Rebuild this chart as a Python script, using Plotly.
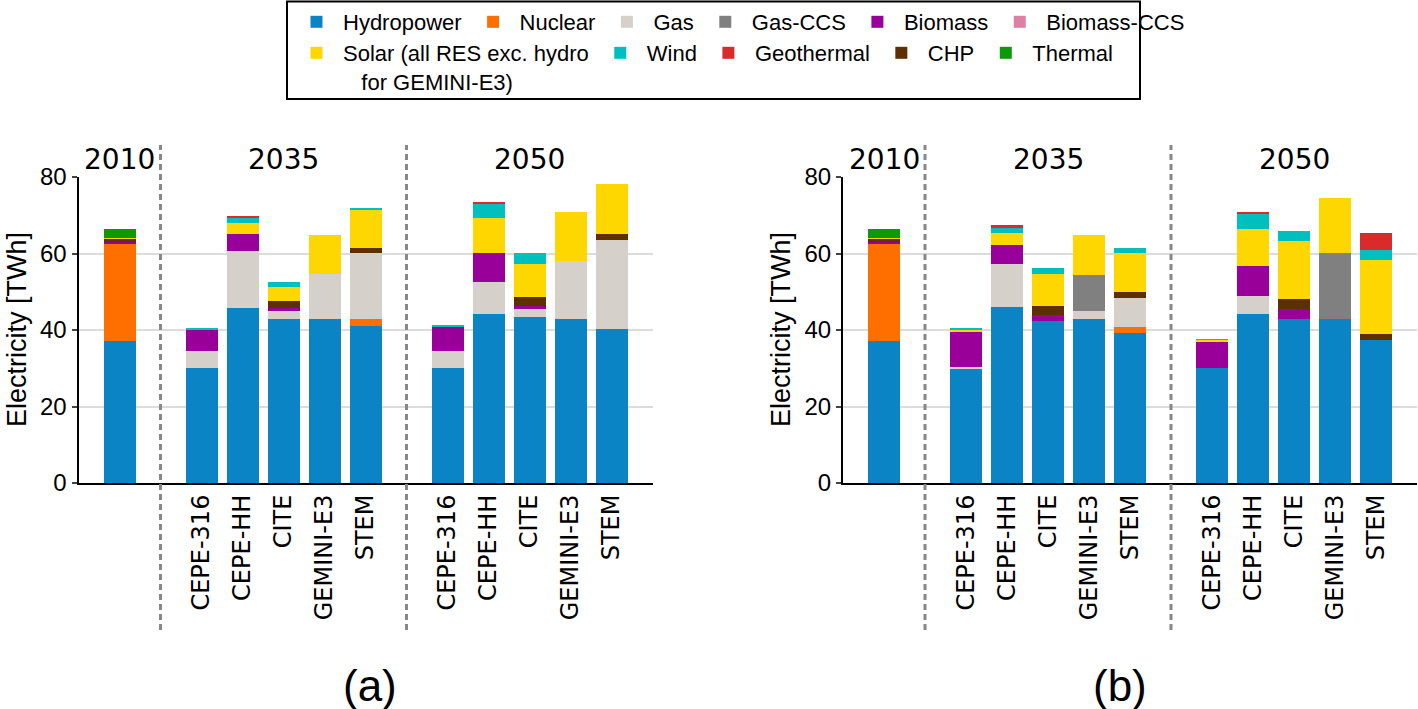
import plotly.graph_objects as go

# Categories: 2010 reference bar, then five models for 2035 and for 2050
YEARS = ['2010', '2035', '2050']
MODELS = ['CEPE-316', 'CEPE-HH', 'CITE', 'GEMINI-E3', 'STEM']

TECHS = ['Hydropower', 'Nuclear', 'Gas', 'Gas-CCS', 'Biomass', 'Biomass-CCS',
         'CHP', 'Solar', 'Wind', 'Geothermal', 'Thermal']
LEGEND_NAMES = {'Solar': 'Solar (all RES exc. hydro<br>\u00a0\u00a0\u00a0for GEMINI-E3)'}

# values in TWh, order: 2010 | 2035 x5 models | 2050 x5 models
# panel (a)
HYDRO_A = [37.2, 30.1, 45.8, 42.9, 43.0, 41.1, 30.1, 44.2, 43.4, 43.0, 40.3]
NUCLEAR_A = [25.3, 0, 0, 0, 0, 1.9, 0, 0, 0, 0, 0]
GAS_A = [0, 4.4, 14.9, 2.1, 11.7, 17.1, 4.3, 8.4, 2.2, 15.1, 23.2]
GASCCS_A = [0, 0, 0, 0, 0, 0, 0, 0, 0, 0, 0]
BIOMASS_A = [0.5, 5.5, 4.4, 0.7, 0, 0, 6.4, 7.5, 0.8, 0, 0]
BIOCCS_A = [0, 0, 0, 0, 0, 0, 0, 0, 0, 0, 0]
CHP_A = [0.9, 0, 0, 1.9, 0, 1.4, 0, 0, 2.2, 0, 1.7]
SOLAR_A = [0.2, 0.2, 2.9, 3.6, 10.1, 10.1, 0.2, 9.3, 8.7, 12.7, 13.1]
WIND_A = [0, 0.3, 1.3, 1.4, 0, 0.4, 0.2, 3.6, 2.8, 0, 0]
GEO_A = [0, 0, 0.4, 0, 0, 0, 0, 0.5, 0, 0, 0]
THERMAL_A = [2.4, 0, 0, 0, 0, 0, 0, 0, 0, 0, 0]

# panel (b)
HYDRO_B = [37.2, 30.0, 45.9, 42.4, 43.0, 39.1, 30.1, 44.2, 43.0, 43.0, 37.4]
NUCLEAR_B = [25.3, 0, 0, 0, 0, 1.8, 0, 0, 0, 0, 0]
GAS_B = [0, 0.2, 11.4, 0, 2.0, 7.4, 0, 4.6, 0, 0, 0]
GASCCS_B = [0, 0, 0, 0, 9.5, 0, 0, 0, 0, 17.2, 0]
BIOMASS_B = [0.5, 9.5, 4.9, 1.4, 0, 0, 7.0, 7.9, 2.6, 0, 0]
BIOCCS_B = [0, 0, 0, 0, 0, 0, 0, 0, 0, 0, 0]
CHP_B = [0.9, 0, 0, 2.6, 0, 1.6, 0, 0, 2.5, 0, 1.6]
SOLAR_B = [0.2, 0.4, 3.2, 8.3, 10.3, 10.2, 0.3, 9.8, 15.2, 14.3, 19.4]
WIND_B = [0, 0.3, 1.3, 1.6, 0, 1.3, 0.2, 3.7, 2.6, 0, 2.6]
GEO_B = [0, 0, 0.7, 0, 0, 0, 0, 0.6, 0, 0, 4.4]
THERMAL_B = [2.4, 0, 0, 0, 0, 0, 0, 0, 0, 0, 0]

COLORS = {
    'Hydropower': '#0b84c6', 'Nuclear': '#ff6f00', 'Gas': '#d5d1ca',
    'Gas-CCS': '#808080', 'Biomass': '#990099', 'Biomass-CCS': '#de7fa5',
    'CHP': '#5c3000', 'Solar': '#ffd700', 'Wind': '#00bfbf',
    'Geothermal': '#d92b2b', 'Thermal': '#0a9a0a',
}
ROW1 = ['Hydropower', 'Nuclear', 'Gas', 'Gas-CCS', 'Biomass', 'Biomass-CCS']
ROW2 = ['Solar', 'Wind', 'Geothermal', 'CHP', 'Thermal']

PANEL_A = [HYDRO_A, NUCLEAR_A, GAS_A, GASCCS_A, BIOMASS_A, BIOCCS_A,
           CHP_A, SOLAR_A, WIND_A, GEO_A, THERMAL_A]
PANEL_B = [HYDRO_B, NUCLEAR_B, GAS_B, GASCCS_B, BIOMASS_B, BIOCCS_B,
           CHP_B, SOLAR_B, WIND_B, GEO_B, THERMAL_B]

# slot positions: 2010 at 0, gap, five 2035 bars, gap, five 2050 bars
xpos = [0] + [2 + i for i in range(len(MODELS))] + [8 + i for i in range(len(MODELS))]
tickvals = xpos[1:]
ticktext = MODELS + MODELS
year_x = [0, 4, 10]
sep_x = [1, 7]

W, H = 1418, 709
TICK_FONT = 'DejaVu Sans'
SANS = 'Liberation Sans, Arial, sans-serif'

fig = go.Figure()
for panel, (xa, ya) in zip([PANEL_A, PANEL_B], [('x', 'y'), ('x2', 'y2')]):
    for tech, vals in zip(TECHS, panel):
        first = xa == 'x'
        fig.add_trace(go.Bar(
            x=xpos, y=vals, name=LEGEND_NAMES.get(tech, tech),
            xaxis=xa, yaxis=ya, width=0.8,
            marker=dict(color=COLORS[tech], line=dict(width=0)),
            legendgroup=tech, showlegend=first,
            legend='legend' if tech in ROW1 else 'legend2',
            legendrank=(ROW1 + ROW2).index(tech),
        ))

y_dom = [1 - 483 / H, 1 - 177 / H]
axis_common = dict(showline=True, linecolor='black', linewidth=2, mirror=False,
                   automargin=False)
xaxis_common = dict(range=[-1, 13], tickvals=tickvals, ticktext=ticktext, tickangle=-90,
                    showgrid=False, zeroline=False, ticks='',
                    tickfont=dict(family=TICK_FONT, size=24), **axis_common)
yaxis_common = dict(domain=y_dom, range=[0, 80], tickvals=[0, 20, 40, 60, 80],
                    showgrid=True, gridcolor='#dcdcdc', gridwidth=1.5, zeroline=False,
                    ticks='outside', ticklen=5, tickwidth=1.5,
                    tickfont=dict(family=SANS, size=24), **axis_common)
legend_common = dict(orientation='h', xanchor='left', yanchor='top', itemwidth=43,
                     font=dict(family=SANS, size=22), bgcolor='rgba(0,0,0,0)',
                     traceorder='normal', itemclick=False, valign='top')
fig.update_layout(
    template='none',
    width=W, height=H, barmode='stack', bargap=0,
    paper_bgcolor='white', plot_bgcolor='white',
    margin=dict(l=0, r=0, t=0, b=0, autoexpand=False),
    font=dict(family=SANS, color='black'),
    xaxis=dict(domain=[78.5 / W, 652.5 / W], **xaxis_common),
    xaxis2=dict(domain=[843 / W, 1417 / W], anchor='y2', **xaxis_common),
    yaxis=dict(**yaxis_common),
    yaxis2=dict(anchor='x2', **yaxis_common),
    legend=dict(x=290 / W, y=1 - 1 / H, **legend_common),
    legend2=dict(x=290 / W, y=1 - 32 / H, **legend_common),
)

# legend frame
fig.add_shape(type='rect', xref='paper', yref='paper', x0=287 / W, x1=1140 / W,
              y0=1 - 99 / H, y1=1 - 1.5 / H, line=dict(color='black', width=2))

annotations = []
for xa, xd, label, lx in [('x', 'x', '(a)', 370), ('x2', 'x2', '(b)', 1120)]:
    for sx in sep_x:
        fig.add_shape(type='line', xref=xd, yref='paper', x0=sx, x1=sx,
                      y0=1 - 630 / H, y1=1 - 145 / H,
                      line=dict(color='#888888', width=3, dash='6px,4px'))
    for yx, yr in zip(year_x, YEARS):
        annotations.append(dict(x=yx, y=1 - 159 / H, xref=xd, yref='paper', text=yr,
                                showarrow=False, font=dict(family=TICK_FONT, size=28),
                                xanchor='center', yanchor='middle'))
    annotations.append(dict(x=lx / W, y=1 - 685 / H, xref='paper', yref='paper', text=label,
                            showarrow=False, font=dict(family=SANS, size=44),
                            xanchor='center', yanchor='middle'))

for tx in [17, 781]:
    annotations.append(dict(x=tx / W, y=1 - 330 / H, xref='paper', yref='paper',
                            text='Electricity [TWh]', textangle=-90, showarrow=False,
                            font=dict(family=SANS, size=27),
                            xanchor='center', yanchor='middle'))
fig.update_layout(annotations=annotations)

# page body margin would push the figure off by 8px
fig.write_html("out.html", config={'displayModeBar': False},
               post_script="document.body.style.margin = '0';")
